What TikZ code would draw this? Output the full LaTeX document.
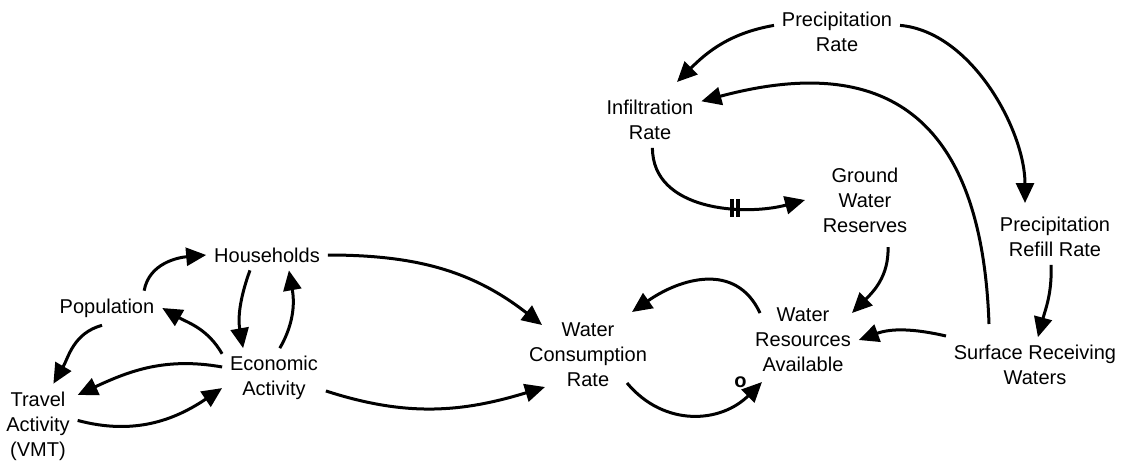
\documentclass[tikz,border=0pt]{standalone}
\usepackage{fontspec}
\setmainfont{Liberation Sans}
\usepackage{tikz}
\usetikzlibrary{arrows.meta}

\begin{document}
\begin{tikzpicture}[
  x=0.5pt, y=-0.5pt,
  var/.style={align=center, font=\fontsize{10}{12.5}\selectfont,
              inner sep=2pt, outer sep=2pt},
  link/.style={->, >={Triangle[length=10pt,width=9pt]}, line width=1.5pt},
  delaymark/.style={inner sep=0pt},
  polarity/.style={inner sep=0pt, font=\fontsize{10}{12.5}\selectfont\bfseries},
]
\useasboundingbox (0,0) rectangle (1124,461);

% Nodes
\node[var] (prate)   at (837,32)  {Precipitation\\Rate};
\node[var] (infil)   at (650,120) {Infiltration\\Rate};
\node[var] (gwr)     at (865,200) {Ground\\Water\\Reserves};
\node[var] (prefill) at (1055,237) {Precipitation\\Refill Rate};
\node[var] (surf)    at (1035,365) {Surface Receiving\\Waters};
\node[var] (wra)     at (803,340) {Water\\Resources\\Available};
\node[var] (wcr)     at (588,355) {Water\\Consumption\\Rate};
\node[var] (hh)      at (267,255) {Households};
\node[var] (pop)     at (107,308) {Population};
\node[var] (econ)    at (274,378) {Economic\\Activity};
\node[var] (travel)  at (38,426)  {Travel\\Activity\\(VMT)};

% Edges (directed)
\draw[link] (pop.25) to[out=80,in=185] (hh.west);
\draw[link] (hh.222) to[out=250,in=100] (econ.136);
\draw[link] (econ.79) to[out=60,in=280] (hh.325);
\draw[link] (econ.155) to[out=120,in=-30] (pop.east);
\draw[link] (pop.254) to[out=195,in=60] (travel.70);
\draw[link] (econ.168) to[out=170,in=25] (travel.38);
\draw[link] (travel.8) to[out=-15,in=214] (econ.191);
\draw[link] (hh.east) to[out=0,in=142] ([shift={(-46,-30)}]wcr.center);
\draw[link] (econ.-14) to[out=-18,in=197] ([shift={(-43,32)}]wcr.center);
\draw[link] ([shift={(-43,-27)}]wra.center) to[out=115,in=35,looseness=1.15] ([shift={(44,-43)}]wcr.center);
\draw[link] ([shift={(39,28)}]wcr.center) to[out=-50,in=225,looseness=1.1]
  node[polarity, pos=1, anchor=east, xshift=-7pt] (pol) {o} ([shift={(-41,42)}]wra.center);
\draw[link] ([shift={(23,47)}]gwr.center) to[out=-88,in=45] ([shift={(49,-27)}]wra.center);
\draw[link] ([shift={(-89,-29)}]surf.center) to[out=167,in=20] (wra.east);
\draw[link] (prefill.-98) to[out=-88,in=75] (surf.84);
\draw[link] ([shift={(-46,-41)}]surf.center) to[out=92,in=15,looseness=1.4] (infil.20);
\draw[link] (prate.174) to[out=190,in=45] ([shift={(27,-38)}]infil.center);
\draw[link] (prate.6) to[out=-5,in=90,looseness=0.85] ([shift={(-30,-34)}]prefill.center);
\draw[link] (infil.-85) to[out=-90,in=195]
  node[delaymark, pos=0.65] (dly) {\rule{1.7pt}{9pt}\hspace{1.4pt}\rule{1.7pt}{9pt}}
  ([shift={(-60,0)}]gwr.center);

\end{tikzpicture}
\end{document}
